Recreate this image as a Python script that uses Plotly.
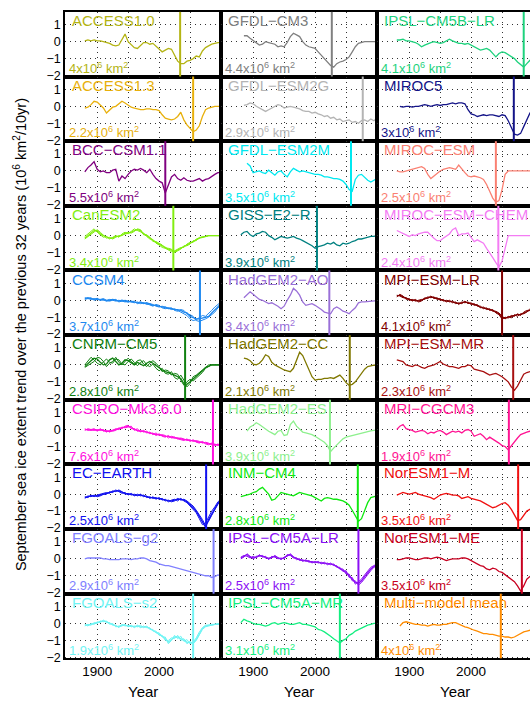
import plotly.graph_objects as go

# Sampling years of the 32-year running trend series
YEARS = list(range(1880, 2101, 5))

# ---- Column 1 models ----
ACCESS1_0 = [0.05, 0.1, 0.05, 0.1, 0.05, 0.05, 0.0, -0.05, -0.1, -0.2, -0.25, -0.2, 0.1, 0.45, 0.0,
             -0.15, -0.35, -0.4, -0.2, -0.05, -0.05, -0.15, -0.1, -0.25, -0.45, -0.6, -0.5, -0.4, -0.45,
             -0.8, -1.15, -1.3, -1.3, -1.15, -1.1, -1.0, -0.85, -0.9, -0.55, -0.35, -0.25, -0.15, -0.1,
             -0.05, -0.05]
ACCESS1_3 = [-0.1, -0.05, 0.1, 0.3, 0.25, 0.1, -0.1, -0.4, -0.25, -0.05, 0.0, 0.15, 0.3, 0.2, 0.05,
             -0.05, -0.1, -0.15, -0.2, -0.2, -0.15, -0.15, -0.2, -0.2, -0.25, -0.5, -0.7, -0.75, -0.8,
             -0.75, -0.6, -0.35, -0.8, -1.1, -1.3, -1.5, -1.4, -1.15, -0.6, -0.2, -0.1, -0.05, 0.0, 0.0,
             0.0]
BCC_CSM1_1 = [-0.05, 0.2, 0.35, 0.55, 0.1, -0.05, 0.0, -0.1, -0.1, 0.05, 0.1, -0.6, -0.3, -0.45, -0.2,
              0.0, 0.1, 0.05, 0.15, 0.05, -0.1, 0.1, -0.2, -0.45, -0.6, -0.7, -1.3, -0.8, -0.35, -0.2,
              -0.45, -0.55, -0.4, -0.55, -0.6, -0.6, -0.5, -0.45, -0.6, -0.5, -0.45, -0.3, -0.2, -0.1,
              -0.1]
CANESM2 = [-0.15, 0.0, 0.15, 0.3, 0.3, 0.1, 0.0, -0.1, -0.15, -0.15, -0.05, -0.05, 0.05, 0.1, 0.15,
           0.2, 0.3, 0.35, 0.3, 0.1, 0.0, -0.15, -0.3, -0.4, -0.5, -0.6, -0.7, -0.8, -0.85, -0.95, -0.85,
           -0.75, -0.65, -0.55, -0.45, -0.35, -0.25, -0.15, -0.1, -0.05, 0.0, 0.0, 0.0, 0.0, 0.0]
CANESM2_B = [-0.05, 0.1, 0.3, 0.4, 0.2, 0.05, -0.1, -0.05, -0.2, -0.1, 0.0, -0.1, 0.1, 0.2, 0.1, 0.25,
             0.4, 0.3, 0.2, 0.15, -0.05, -0.2, -0.25, -0.45, -0.55, -0.7, -0.75, -0.85, -0.95, -0.9,
             -0.8, -0.7, -0.7, -0.5, -0.4, -0.4, -0.2, -0.15, -0.05, -0.05, 0.0, 0.0, 0.0, 0.0, 0.0]
CANESM2_C = [-0.2, -0.05, 0.1, 0.25, 0.35, 0.2, 0.05, -0.15, -0.1, -0.2, -0.1, 0.0, 0.0, 0.15, 0.2,
             0.15, 0.25, 0.4, 0.35, 0.05, 0.05, -0.1, -0.35, -0.35, -0.45, -0.55, -0.75, -0.75, -0.8,
             -1.0, -0.9, -0.8, -0.6, -0.6, -0.5, -0.3, -0.3, -0.1, -0.1, -0.05, 0.0, 0.0, 0.0, 0.0, 0.0]
CCSM4 = [0.1, 0.15, 0.1, 0.05, 0.1, 0.0, 0.05, -0.05, 0.0, 0.05, 0.0, -0.05, 0.0, -0.05, -0.1, -0.05,
         -0.1, -0.15, -0.1, -0.2, -0.15, -0.25, -0.3, -0.3, -0.35, -0.4, -0.4, -0.5, -0.5, -0.55, -0.55,
         -0.6, -0.7, -0.75, -0.95, -1.05, -1.1, -1.1, -1.05, -1.0, -0.95, -0.75, -0.55, -0.35, -0.2]
CCSM4_B = [0.05, 0.1, 0.15, 0.0, 0.05, 0.05, 0.0, 0.0, -0.05, 0.0, 0.05, -0.1, -0.05, 0.0, -0.05, -0.1,
           -0.15, -0.1, -0.2, -0.15, -0.25, -0.2, -0.25, -0.35, -0.4, -0.35, -0.45, -0.45, -0.55, -0.5,
           -0.6, -0.7, -0.8, -0.9, -1.1, -1.2, -1.15, -1.0, -0.9, -0.95, -0.8, -0.6, -0.4, -0.25, -0.1]
CCSM4_C = [0.15, 0.1, 0.05, 0.1, 0.05, 0.05, 0.1, 0.0, 0.05, 0.0, -0.05, 0.0, -0.05, -0.1, -0.05, -0.1,
           -0.05, -0.2, -0.15, -0.15, -0.2, -0.3, -0.35, -0.25, -0.3, -0.45, -0.5, -0.45, -0.45, -0.6,
           -0.65, -0.55, -0.6, -0.8, -0.85, -0.95, -1.2, -1.25, -1.15, -1.1, -1.0, -0.85, -0.7, -0.45,
           -0.3]
CNRM_CM5 = [-0.1, 0.1, 0.25, 0.4, 0.35, 0.15, 0.0, 0.05, 0.3, 0.4, 0.2, 0.0, 0.1, 0.3, 0.25, 0.1, 0.0,
            0.15, 0.05, -0.05, 0.1, 0.2, 0.1, -0.05, -0.2, -0.3, -0.4, -0.45, -0.55, -0.6, -0.7, -0.8,
            -1.1, -1.15, -1.0, -0.85, -0.7, -0.55, -0.35, -0.15, -0.05, 0.0, 0.0, 0.0, 0.0]
CNRM_CM5_B = [0.0, 0.2, 0.45, 0.3, 0.1, 0.0, 0.2, 0.35, 0.15, 0.1, 0.35, 0.3, 0.05, 0.0, 0.2, 0.35, 0.15,
              -0.05, 0.15, 0.25, 0.0, -0.1, 0.05, -0.2, -0.35, -0.2, -0.5, -0.55, -0.4, -0.75, -0.85,
              -0.6, -0.9, -1.3, -1.1, -0.7, -0.6, -0.45, -0.25, -0.1, 0.0, 0.0, 0.0, 0.0, 0.0]
CNRM_CM5_C = [-0.15, -0.05, 0.1, 0.2, 0.45, 0.4, 0.2, -0.1, 0.1, 0.2, 0.45, 0.15, 0.0, 0.2, 0.4, 0.2,
              0.05, 0.25, 0.3, 0.05, -0.1, 0.1, 0.25, 0.1, -0.1, -0.4, -0.3, -0.35, -0.6, -0.5, -0.55,
              -0.9, -1.2, -1.0, -0.85, -0.95, -0.8, -0.6, -0.45, -0.2, -0.1, 0.0, 0.0, 0.0, 0.0]
CSIRO = [0.0, 0.0, -0.05, 0.0, -0.05, 0.0, -0.05, -0.1, -0.1, -0.05, 0.0, 0.05, 0.1, 0.15, 0.2, 0.1,
         0.0, -0.05, -0.1, -0.1, -0.15, -0.2, -0.25, -0.3, -0.3, -0.35, -0.4, -0.4, -0.45, -0.5, -0.5,
         -0.55, -0.6, -0.6, -0.65, -0.65, -0.7, -0.75, -0.75, -0.8, -0.85, -0.85, -0.9, -0.9, -0.9]
CSIRO_B = [0.05, -0.05, 0.0, 0.05, -0.1, 0.05, -0.1, -0.05, -0.15, -0.05, 0.05, 0.0, 0.15, 0.1, 0.15,
           0.2, -0.05, 0.05, -0.15, -0.05, -0.2, -0.15, -0.3, -0.2, -0.35, -0.3, -0.35, -0.5, -0.4,
           -0.45, -0.55, -0.5, -0.55, -0.65, -0.6, -0.7, -0.65, -0.7, -0.8, -0.75, -0.8, -0.9, -0.85,
           -0.95, -0.85]
CSIRO_C = [-0.05, 0.05, 0.0, -0.05, 0.0, -0.05, 0.0, -0.15, -0.05, -0.1, -0.05, 0.1, 0.05, 0.2, 0.25,
           0.05, 0.05, -0.1, -0.05, -0.15, -0.1, -0.25, -0.2, -0.35, -0.25, -0.4, -0.45, -0.35, -0.5,
           -0.45, -0.55, -0.6, -0.65, -0.55, -0.7, -0.6, -0.75, -0.8, -0.7, -0.85, -0.9, -0.8, -0.95,
           -0.85, -0.95]
EC_EARTH = [-0.2, -0.15, -0.1, -0.1, -0.1, -0.05, 0.0, 0.05, 0.1, 0.15, 0.2, 0.2, 0.1, 0.05, 0.0, 0.0,
            -0.05, -0.05, -0.05, -0.1, -0.15, -0.2, -0.2, -0.25, -0.25, -0.3, -0.35, -0.4, -0.4, -0.35,
            -0.3, -0.3, -0.35, -0.45, -0.6, -0.8, -1.0, -1.3, -1.6, -1.95, -1.5, -1.15, -0.85, -0.55,
            -0.35]
EC_EARTH_B = [-0.15, -0.2, -0.05, -0.15, -0.05, 0.0, 0.05, 0.1, 0.05, 0.2, 0.15, 0.25, 0.15, 0.0, 0.05,
              -0.05, 0.0, -0.1, 0.0, -0.15, -0.1, -0.25, -0.15, -0.3, -0.2, -0.35, -0.3, -0.45, -0.35,
              -0.3, -0.4, -0.25, -0.4, -0.5, -0.7, -0.9, -1.1, -1.45, -1.8, -1.7, -1.3, -1.0, -0.75,
              -0.45, -0.3]
EC_EARTH_C = [-0.25, -0.1, -0.15, -0.05, -0.15, -0.1, 0.0, 0.0, 0.15, 0.1, 0.25, 0.15, 0.05, 0.1, -0.05,
              0.05, -0.1, 0.0, -0.1, -0.05, -0.2, -0.15, -0.25, -0.2, -0.3, -0.25, -0.4, -0.35, -0.45,
              -0.4, -0.25, -0.35, -0.3, -0.4, -0.55, -0.7, -0.95, -1.2, -1.5, -1.85, -1.6, -1.25, -0.95,
              -0.6, -0.4]
FGOALS_G2 = [0.0, 0.05, 0.05, 0.05, 0.05, 0.05, 0.0, 0.0, -0.05, -0.05, -0.05, -0.05, 0.0, 0.0, 0.0,
             -0.05, 0.0, 0.0, 0.05, 0.05, 0.0, -0.1, -0.15, -0.2, -0.3, -0.35, -0.4, -0.4, -0.45, -0.5,
             -0.55, -0.6, -0.65, -0.7, -0.75, -0.8, -0.85, -0.9, -0.95, -1.0, -1.0, -1.1, -1.05, -0.95,
             -1.0]
FGOALS_S2 = [-0.1, -0.1, -0.05, 0.0, 0.05, 0.1, 0.15, 0.1, 0.0, -0.05, -0.15, -0.2, -0.1, -0.1, -0.15,
             -0.15, -0.2, -0.15, -0.2, -0.2, -0.2, -0.3, -0.4, -0.5, -0.6, -0.75, -0.9, -1.1, -0.95,
             -0.8, -0.8, -0.9, -1.0, -1.1, -1.15, -1.15, -0.95, -0.6, -0.3, -0.15, -0.1, -0.1, -0.05,
             -0.05, -0.05]
FGOALS_S2_B = [-0.05, -0.15, 0.0, -0.05, 0.1, 0.05, 0.2, 0.05, 0.05, -0.1, -0.1, -0.25, -0.05, -0.15,
               -0.1, -0.2, -0.15, -0.2, -0.1, -0.25, -0.15, -0.35, -0.35, -0.55, -0.55, -0.8, -0.8,
               -1.2, -1.0, -0.7, -0.9, -0.75, -1.05, -0.95, -1.2, -1.1, -0.85, -0.5, -0.25, -0.1, -0.1,
               -0.05, -0.05, -0.05, 0.0]
FGOALS_S2_C = [-0.15, -0.05, -0.1, 0.05, 0.0, 0.15, 0.1, 0.15, -0.05, 0.0, -0.2, -0.15, -0.15, -0.05,
               -0.2, -0.1, -0.25, -0.1, -0.25, -0.15, -0.25, -0.25, -0.45, -0.45, -0.7, -0.7, -1.0,
               -1.0, -0.85, -0.9, -0.7, -1.0, -0.9, -1.2, -1.05, -1.2, -1.0, -0.7, -0.35, -0.2, -0.15,
               -0.1, -0.05, 0.0, -0.05]

# ---- Column 2 models ----
GFDL_CM3 = [None, 0.35, 0.35, 0.2, 0.05, -0.05, -0.2, -0.15, 0.0, -0.05, -0.1, -0.15, -0.3, -0.25,
            -0.3, -0.05, 0.3, 0.5, 0.4, 0.3, 0.0, -0.2, -0.3, -0.35, -0.4, -0.6, -0.8, -1.0, -1.2, -1.4,
            -1.5, -1.3, -1.2, -1.15, -1.05, -0.9, -0.6, -0.3, -0.1, -0.05, 0.0, 0.0, 0.0, 0.0, 0.0]
GFDL_ESM2G = [None, 0.05, 0.1, 0.2, 0.15, 0.0, -0.1, -0.25, -0.3, -0.2, -0.1, 0.0, 0.1, 0.05, -0.1,
              -0.05, 0.0, -0.05, -0.1, -0.15, -0.25, -0.3, -0.3, -0.4, -0.35, -0.45, -0.5, -0.6, -0.55,
              -0.7, -0.65, -0.8, -0.75, -0.9, -0.85, -0.8, -0.95, -0.9, -1.0, -0.85, -0.8, -0.9, -0.75,
              -0.85, -0.7]
GFDL_ESM2M = [None, None, 0.45, 0.3, -0.1, -0.05, 0.0, -0.1, -0.15, 0.05, -0.1, -0.25, -0.05, 0.0,
              -0.2, -0.35, -0.05, 0.15, 0.05, -0.05, 0.0, -0.05, -0.1, -0.15, -0.2, -0.2, -0.25, -0.35,
              -0.35, -0.4, -0.45, -0.45, -0.5, -0.6, -0.8, -1.1, -1.2, -0.5, -0.25, -0.2, -0.4, -0.55,
              -0.65, -0.55, -0.45]
GISS_E2_R = [0.05, 0.2, 0.25, 0.05, -0.05, 0.1, 0.15, 0.25, 0.2, 0.0, -0.1, -0.25, -0.15, -0.05, -0.1,
             -0.15, -0.1, -0.05, -0.15, -0.2, -0.3, -0.4, -0.5, -0.6, -0.75, -0.65, -0.6, -0.55, -0.45,
             -0.5, -0.4, -0.55, -0.6, -0.45, -0.5, -0.45, -0.35, -0.3, -0.2, -0.2, -0.15, -0.1, -0.05,
             -0.05, 0.0]
HADGEM2_AO = [None, 0.15, 0.3, 0.5, 0.35, 0.2, 0.05, 0.0, -0.1, -0.2, -0.15, -0.25, -0.35, -0.5, -0.35,
              0.0, 0.3, 0.7, 0.55, 0.3, -0.1, -0.3, -0.25, -0.2, -0.3, -0.4, -0.55, -0.7, -0.75, -0.8,
              -0.5, -0.4, -0.5, -0.65, -0.7, -0.8, -0.6, -0.45, -0.15, -0.1, -0.1, -0.08, -0.05, -0.05,
              -0.02]
HADGEM2_CC = [None, 0.4, 0.35, 0.25, 0.05, 0.0, 0.1, 0.3, 0.6, 0.5, 0.15, 0.0, -0.1, -0.2, -0.3, -0.35,
              -0.4, -0.2, 0.3, 0.75, 0.55, 0.1, -0.3, -0.7, -0.9, -0.85, -0.85, -0.8, -0.8, -0.75, -0.8,
              -0.7, -0.6, -0.8, -1.05, -1.2, -1.15, -1.0, -0.75, -0.45, -0.25, -0.1, -0.05, -0.02, 0.0]
HADGEM2_ES = [None, None, -0.1, 0.15, 0.25, 0.4, 0.3, 0.15, 0.05, -0.1, -0.2, -0.3, -0.1, -0.05, -0.35,
              -0.3, 0.3, 0.5, 0.2, 0.05, -0.15, -0.2, -0.25, -0.3, -0.4, -0.5, -0.6, -0.75, -0.95, -1.3,
              -1.1, -0.9, -0.7, -0.55, -0.45, -0.4, -0.35, -0.3, -0.25, -0.2, -0.15, -0.1, -0.08, -0.05,
              -0.03]
INM_CM4 = [-0.15, -0.1, -0.05, 0.0, 0.1, 0.15, 0.3, 0.4, 0.2, 0.0, -0.35, -0.3, -0.1, 0.1, 0.05, 0.0,
           -0.05, -0.1, 0.0, 0.1, 0.05, 0.0, -0.05, -0.1, -0.2, -0.3, -0.4, -0.25, -0.2, -0.25, -0.3,
           -0.3, -0.35, -0.4, -0.5, -0.65, -0.95, -1.3, -1.6, -1.45, -1.0, -0.5, -0.2, -0.15, -0.1]
IPSL_CM5A_LR = [0.05, 0.15, 0.25, 0.1, 0.05, 0.1, 0.2, 0.15, 0.1, 0.0, 0.1, 0.15, 0.05, 0.0, 0.05, 0.2,
                0.25, 0.1, 0.0, -0.05, -0.1, -0.1, -0.15, -0.2, -0.2, -0.2, -0.25, -0.25, -0.3, -0.3,
                -0.35, -0.45, -0.55, -0.65, -0.8, -1.0, -1.2, -1.4, -1.45, -1.3, -1.05, -0.8, -0.6,
                -0.45, -0.35]
IPSL_CM5A_LR_B = [0.1, 0.2, 0.15, 0.05, 0.15, 0.05, 0.25, 0.1, 0.15, -0.05, 0.15, 0.1, 0.0, 0.05, 0.0,
                  0.25, 0.2, 0.05, 0.05, -0.1, -0.05, -0.15, -0.1, -0.25, -0.15, -0.25, -0.2, -0.3,
                  -0.25, -0.35, -0.3, -0.5, -0.5, -0.75, -0.7, -1.1, -1.1, -1.5, -1.35, -1.2, -0.95,
                  -0.7, -0.5, -0.4, -0.3]
IPSL_CM5A_LR_C = [0.0, 0.1, 0.3, 0.15, 0.0, 0.15, 0.15, 0.2, 0.05, 0.05, 0.05, 0.2, 0.1, -0.05, 0.1,
                  0.15, 0.3, 0.15, -0.05, 0.0, -0.15, -0.05, -0.2, -0.15, -0.25, -0.15, -0.3, -0.2,
                  -0.35, -0.25, -0.4, -0.4, -0.6, -0.6, -0.9, -0.9, -1.3, -1.3, -1.55, -1.4, -1.15, -0.9,
                  -0.7, -0.5, -0.4]
IPSL_CM5A_MR = [0.05, 0.25, 0.15, 0.1, 0.0, -0.05, -0.05, -0.1, -0.15, -0.1, 0.0, 0.05, -0.05, 0.0,
                0.05, 0.0, -0.05, -0.05, 0.0, 0.05, -0.05, -0.05, -0.1, -0.15, -0.2, -0.35, -0.4, -0.5,
                -0.6, -0.75, -0.9, -1.0, -1.15, -1.0, -0.9, -0.7, -0.6, -0.45, -0.35, -0.25, -0.15, -0.1,
                -0.05, 0.0, 0.0]

# ---- Column 3 models ----
IPSL_CM5B_LR = [0.1, 0.1, 0.15, 0.05, 0.05, 0.0, -0.05, -0.15, -0.3, -0.2, -0.1, -0.05, 0.0, -0.05,
                -0.1, -0.05, 0.05, 0.15, 0.05, -0.05, -0.1, -0.1, -0.15, -0.1, -0.2, -0.3, -0.4, -0.5,
                -0.45, -0.4, -0.5, -0.7, -0.9, -0.7, -0.6, -0.65, -0.75, -0.85, -1.0, -1.2, -1.35, -1.5,
                -1.3, -1.1, -1.0]
MIROC5 = [None, 0.0, -0.05, 0.0, 0.0, -0.05, 0.0, 0.0, 0.05, 0.1, 0.05, 0.0, 0.05, 0.1, 0.05, 0.1, 0.1,
          0.15, 0.2, 0.15, 0.2, 0.2, 0.15, -0.2, -0.45, -0.5, -0.6, -0.55, -0.5, -0.55, -0.5, -0.5,
          -0.55, -0.6, -0.5, -0.55, -0.85, -1.3, -1.65, -1.7, -1.6, -1.2, -0.8, -0.4, -0.2]
MIROC_ESM = [0.0, -0.05, -0.05, 0.0, 0.05, 0.1, 0.15, 0.2, 0.25, 0.15, -0.2, -0.45, -0.3, -0.1, 0.0,
             0.1, 0.15, 0.2, 0.15, 0.1, 0.35, 0.1, -0.1, -0.3, -0.35, -0.3, -0.35, -0.4, -0.5, -0.8,
             -1.2, -1.6, -1.85, -1.75, -1.1, -0.2, 0.0, 0.0, 0.0, 0.0, 0.0, 0.0, 0.0, 0.0, 0.0]
MIROC_ESM_CHEM = [0.3, 0.2, 0.15, 0.0, -0.05, 0.05, 0.0, 0.1, 0.15, 0.2, 0.2, 0.0, -0.15, -0.3, -0.3,
                  -0.15, 0.0, 0.1, 0.35, 0.45, 0.0, 0.1, 0.1, 0.15, -0.1, -0.35, -0.25, -0.35, -0.45,
                  -0.75, -1.0, -1.3, -1.6, -1.85, -1.5, -0.8, 0.0, 0.0, 0.0, 0.0, 0.0, 0.0, 0.0, 0.0,
                  0.0]
MPI_ESM_LR = [0.25, 0.3, 0.2, 0.1, 0.05, 0.0, 0.0, -0.05, 0.0, 0.1, 0.15, 0.2, 0.15, 0.1, 0.05, 0.0,
              -0.05, -0.05, -0.1, -0.15, -0.2, -0.15, -0.1, -0.15, -0.2, -0.25, -0.3, -0.4, -0.45, -0.5,
              -0.55, -0.6, -0.7, -0.8, -1.05, -1.05, -1.0, -0.95, -0.9, -0.85, -0.85, -0.75, -0.65,
              -0.55, -0.5]
MPI_ESM_LR_B = [0.3, 0.25, 0.15, 0.15, 0.0, 0.05, -0.05, 0.0, 0.05, 0.05, 0.2, 0.15, 0.2, 0.05, 0.1,
                -0.05, 0.0, -0.1, -0.05, -0.2, -0.15, -0.2, -0.05, -0.2, -0.15, -0.3, -0.25, -0.45,
                -0.4, -0.55, -0.5, -0.65, -0.65, -0.75, -0.95, -1.1, -0.95, -1.05, -0.85, -0.95, -0.8,
                -0.8, -0.7, -0.5, -0.55]
MPI_ESM_LR_C = [0.2, 0.35, 0.25, 0.05, 0.1, -0.05, 0.05, -0.1, -0.05, 0.15, 0.1, 0.25, 0.1, 0.15, 0.0,
                0.05, -0.1, 0.0, -0.15, -0.1, -0.25, -0.1, -0.15, -0.1, -0.25, -0.2, -0.35, -0.35, -0.5,
                -0.45, -0.6, -0.55, -0.75, -0.85, -1.1, -1.0, -1.05, -0.9, -0.95, -0.8, -0.9, -0.7,
                -0.6, -0.6, -0.45]
MPI_ESM_MR = [0.3, 0.25, 0.2, 0.0, -0.05, -0.1, 0.0, -0.05, -0.15, -0.2, -0.1, -0.05, 0.0, 0.1, 0.2,
              0.05, -0.05, -0.1, -0.1, -0.15, -0.2, -0.1, -0.1, 0.0, -0.05, -0.25, -0.3, -0.35, -0.4,
              -0.5, -0.6, -0.55, -0.5, -0.6, -0.7, -0.85, -1.0, -1.3, -1.5, -1.25, -0.85, -0.55, -0.45,
              -0.4, -0.35]
MRI_CGCM3 = [0.0, 0.2, 0.3, 0.05, 0.0, -0.05, -0.15, -0.1, -0.05, -0.1, -0.25, -0.15, -0.2, -0.1, -0.05,
             -0.15, -0.3, -0.2, -0.1, -0.15, -0.1, -0.2, -0.05, 0.0, -0.1, -0.4, -0.3, -0.25, -0.4, -0.6,
             -0.45, -0.55, -0.7, -0.8, -0.95, -1.0, -1.2, -0.95, -0.7, -0.5, -0.3, -0.2, -0.15, -0.1,
             -0.05]
NORESM1_M = [-0.05, 0.05, 0.1, 0.05, 0.0, 0.05, 0.1, 0.0, -0.05, -0.1, -0.15, -0.2, -0.3, -0.15, -0.05,
             0.0, 0.05, 0.0, -0.05, -0.05, -0.1, -0.25, -0.2, -0.15, -0.25, -0.3, -0.35, -0.4, -0.5,
             -0.6, -0.7, -0.8, -0.75, -0.65, -0.55, -0.5, -0.65, -0.9, -1.2, -1.55, -1.5, -1.25, -1.0,
             -0.9, -0.8]
NORESM1_ME = [-0.05, -0.05, 0.0, 0.05, 0.05, 0.0, -0.05, -0.05, 0.0, 0.05, 0.05, 0.0, 0.05, 0.1, 0.05,
              -0.05, -0.1, -0.05, 0.0, 0.0, 0.0, 0.05, 0.05, 0.0, -0.1, -0.2, -0.3, -0.4, -0.45, -0.6,
              -0.65, -0.55, -0.6, -0.75, -0.8, -0.95, -1.05, -1.2, -1.35, -1.6, -1.9, -1.6, -1.2, -1.05,
              -0.95]
MULTI_MODEL_MEAN = [None, -0.15, 0.05, 0.1, 0.05, 0.0, -0.05, -0.05, -0.1, -0.1, -0.15, -0.1, -0.05,
                    -0.1, -0.1, -0.05, -0.05, 0.0, 0.05, 0.05, -0.05, -0.15, -0.2, -0.25, -0.35, -0.4,
                    -0.45, -0.55, -0.6, -0.6, -0.65, -0.65, -0.7, -0.75, -0.75, -0.8, -0.8, -0.85, -0.8,
                    -0.7, -0.6, -0.5, -0.45, -0.4, -0.35]

# Panel metadata, ordered column by column (top to bottom)
MODEL_NAMES = [
    "ACCESS1.0", "ACCESS1.3", "BCC−CSM1.1", "CanESM2", "CCSM4",
    "CNRM−CM5", "CSIRO−Mk3.6.0", "EC−EARTH", "FGOALS−g2", "FGOALS−s2",
    "GFDL−CM3", "GFDL−ESM2G", "GFDL−ESM2M", "GISS−E2−R", "HadGEM2−AO",
    "HadGEM2−CC", "HadGEM2−ES", "INM−CM4", "IPSL−CM5A−LR", "IPSL−CM5A−MR",
    "IPSL−CM5B−LR", "MIROC5", "MIROC−ESM", "MIROC−ESM−CHEM", "MPI−ESM−LR",
    "MPI−ESM−MR", "MRI−CGCM3", "NorESM1−M", "NorESM1−ME", "Multi−model mean",
]
ICE_AREA = [
    "4", "2.2", "5.5", "3.4", "3.7", "2.8", "7.6", "2.5", "2.9", "1.9",
    "4.4", "2.9", "3.5", "3.9", "3.4", "2.1", "3.9", "2.8", "2.5", "3.1",
    "4.1", "3", "2.5", "2.4", "4.1", "2.3", "1.9", "3.5", "3.5", "4",
]
THRESHOLD_YEAR = [
    2034, 2055, 2010, 2023, 2066, 2042, 2087, 2076, 2088, 2055,
    2027, 2077, 2058, 2003, 2023, 2056, 2024, 2069, 2070, 2040,
    2085, 2069, 2040, 2044, 2050, 2068, 2061, 2076, 2082, 2048,
]
COLORS = [
    "#b4b414", "#e8b00c", "#800080", "#82ee10", "#1e88f0",
    "#108010", "#ff10e0", "#1010f0", "#8080ff", "#70f4f4",
    "#808080", "#b4b4b4", "#00e8f0", "#008080", "#9a70d8",
    "#807800", "#8ef08e", "#10e810", "#8c10f4", "#14ee80",
    "#1ed27d", "#141488", "#fa8072", "#f47cf4", "#800000",
    "#a81010", "#ff1493", "#f01010", "#c80020", "#ff8c00",
]
RUNS = [
    [ACCESS1_0], [ACCESS1_3], [BCC_CSM1_1], [CANESM2_B, CANESM2_C, CANESM2],
    [CCSM4_B, CCSM4_C, CCSM4], [CNRM_CM5_B, CNRM_CM5_C, CNRM_CM5],
    [CSIRO_B, CSIRO_C, CSIRO], [EC_EARTH_B, EC_EARTH_C, EC_EARTH], [FGOALS_G2],
    [FGOALS_S2_B, FGOALS_S2_C, FGOALS_S2],
    [GFDL_CM3], [GFDL_ESM2G], [GFDL_ESM2M], [GISS_E2_R], [HADGEM2_AO],
    [HADGEM2_CC], [HADGEM2_ES], [INM_CM4], [IPSL_CM5A_LR_B, IPSL_CM5A_LR_C, IPSL_CM5A_LR],
    [IPSL_CM5A_MR],
    [IPSL_CM5B_LR], [MIROC5], [MIROC_ESM], [MIROC_ESM_CHEM],
    [MPI_ESM_LR_B, MPI_ESM_LR_C, MPI_ESM_LR], [MPI_ESM_MR], [MRI_CGCM3], [NORESM1_M],
    [NORESM1_ME], [MULTI_MODEL_MEAN],
]

Y_TICKS = [-2, -1, 0, 1]
X_TICKS = [1900, 2000]
X_MINOR_GRID = [1950, 2050]

# ---- layout geometry (pixels) ----
W, H = 530, 703
COL_LEFT = [65, 221, 377]
COL_W = 156
ROW_TOP = 12
ROW_H = 65.2
N_ROWS = 10
X_START, X_SPAN = 1848, 252
Y_RANGE = [-2.06, 1.76]
FONT = "Liberation Sans, Arial, Helvetica, sans-serif"
GRID = dict(showgrid=True, gridcolor="#333", gridwidth=1, griddash="1px,4px")

fig = go.Figure()
layout = dict(
    width=W, height=H, margin=dict(l=0, r=0, t=0, b=0),
    paper_bgcolor="white", plot_bgcolor="white", showlegend=False,
    font=dict(family=FONT, color="black"),
)
annotations = []
shapes = []

for idx, name in enumerate(MODEL_NAMES):
    col, row = divmod(idx, N_ROWS)
    n = idx + 1
    xa = "xaxis" if n == 1 else f"xaxis{n}"
    ya = "yaxis" if n == 1 else f"yaxis{n}"
    xr = "x" if n == 1 else f"x{n}"
    yr = "y" if n == 1 else f"y{n}"

    left = COL_LEFT[col]
    right = min(left + COL_W, W)
    top = ROW_TOP + ROW_H * row
    bottom = top + ROW_H
    bottom_row = row == N_ROWS - 1

    layout[xa] = dict(
        domain=[left / W, right / W], anchor=yr,
        range=[X_START, X_START + X_SPAN * (right - left) / COL_W],
        tickvals=X_TICKS, showticklabels=bottom_row, ticks="",
        tickfont=dict(size=13.5, family=FONT),
        minor=dict(tickvals=X_MINOR_GRID, ticks="", **GRID),
        zeroline=False, showline=True, mirror=True, linecolor="black", linewidth=1.6,
        **GRID,
    )
    layout[ya] = dict(
        domain=[1 - bottom / H, 1 - top / H], anchor=xr, range=Y_RANGE,
        tickvals=Y_TICKS, showticklabels=(col == 0), ticks="",
        tickfont=dict(size=12.5, family=FONT),
        zeroline=False, showline=True, mirror=(col < 2), linecolor="black", linewidth=1.6,
        **GRID,
    )

    color = COLORS[idx]
    runs = RUNS[idx]
    for k, values in enumerate(runs):
        fig.add_trace(go.Scatter(
            x=YEARS, y=values, mode="lines", xaxis=xr, yaxis=yr,
            line=dict(color=color, width=1.3 if k == len(runs) - 1 else 1.0),
            hoverinfo="skip",
        ))

    shapes.append(dict(
        type="line", xref=xr, yref=f"{yr} domain",
        x0=THRESHOLD_YEAR[idx], x1=THRESHOLD_YEAR[idx], y0=0, y1=1,
        line=dict(color=color, width=2), layer="above",
    ))

    annotations.append(dict(
        text=name, xref=f"{xr} domain", yref=f"{yr} domain",
        x=0.035, y=1.03, xanchor="left", yanchor="top", showarrow=False,
        font=dict(size=15, color=color, family=FONT),
    ))
    annotations.append(dict(
        text=f"{ICE_AREA[idx]}x10<sup>6</sup> km<sup>2</sup>",
        xref=f"{xr} domain", yref=f"{yr} domain",
        x=0.01, y=-0.02, xanchor="left", yanchor="bottom", showarrow=False,
        font=dict(size=13, color=color, family=FONT),
    ))

# Axis titles
for col in range(3):
    cx = (COL_LEFT[col] + COL_W / 2) / W
    annotations.append(dict(
        text="Year", xref="paper", yref="paper", x=cx, y=1 - 697 / H,
        xanchor="center", yanchor="middle", showarrow=False,
        font=dict(size=15, family=FONT, color="black"),
    ))
annotations.append(dict(
    text="September sea ice extent trend over the previous 32 years "
         "(10<sup>6</sup> km<sup>2</sup>/10yr)",
    xref="paper", yref="paper", x=20 / W, y=1 - (ROW_TOP + ROW_H * N_ROWS / 2) / H,
    xanchor="center", yanchor="middle", textangle=-90, showarrow=False,
    font=dict(size=14.5, family=FONT, color="black"),
))

layout["annotations"] = annotations
layout["shapes"] = shapes
fig.update_layout(**layout)
fig.write_html("out.html")
